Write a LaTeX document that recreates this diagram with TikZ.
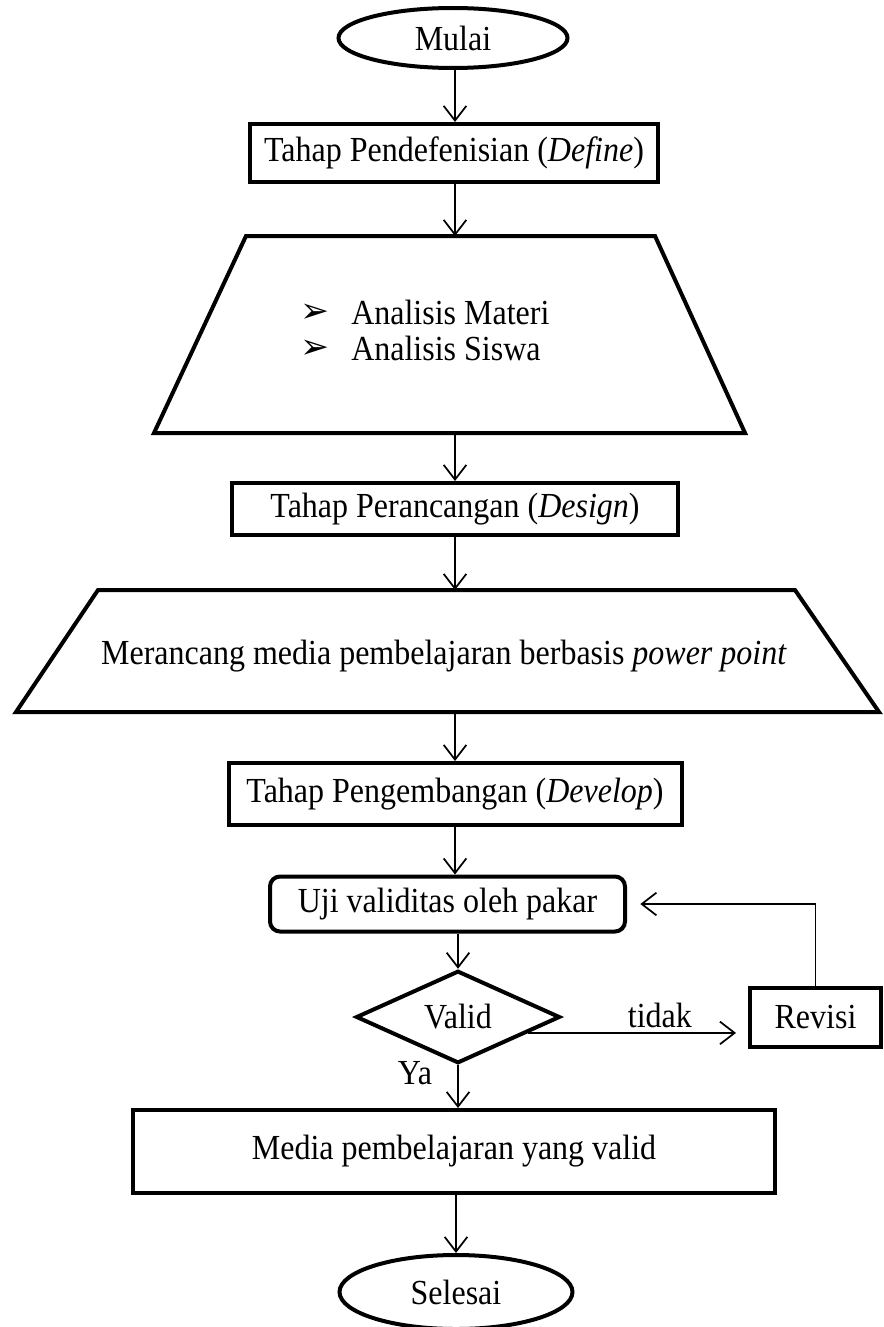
\documentclass[tikz,border=0pt]{standalone}
\usepackage{fontspec}
\usepackage{graphicx}
\setmainfont{Liberation Serif}
\newfontfamily\djv{DejaVu Sans}
\usetikzlibrary{arrows.meta,shapes.geometric,calc}
\newcommand\PX{0.75pt}
\newcommand\fs{\fontsize{24}{29}\selectfont}
\newcommand\V[1]{\scalebox{1}[1.1]{#1}}
\begin{document}
\begin{tikzpicture}[x=0.75pt,y=-0.75pt,
  shp/.style={draw, line width=3pt, font=\fs, inner sep=0pt},
  boxnode/.style={shp, rectangle},
  term/.style={shp, ellipse},
  txt/.style={font=\fs, inner sep=0pt},
  blt/.style={font=\djv\fontsize{26}{30}\selectfont, inner sep=0pt},
  arr/.style={line width=1.3pt, -{Straight Barb[length=11pt,width=17pt]}}]
\useasboundingbox (0,0) rectangle (883,1327);
% start
\node[term, minimum width=229*\PX, minimum height=60*\PX] (mulai) at (453,38) {\V{Mulai}};
\node[boxnode, minimum width=408*\PX, minimum height=58*\PX] (define) at (454,153) {\V{Tahap Pendefenisian (\textit{Define})}};
% trapezoid 1
\coordinate (t1nw) at (246,236);
\coordinate (t1ne) at (655,236);
\coordinate (t1se) at (745,433);
\coordinate (t1sw) at (154,433);
\coordinate (t1n) at (455,236);
\coordinate (t1s) at (455,433);
\draw[line width=3pt] (t1nw) -- (t1ne) -- (t1se) -- (t1sw) -- cycle;
\node[blt] (b1) at (315,313) {➢};
\node[txt, anchor=west] (m1) at (351,312) {\V{Analisis Materi}};
\node[blt] (b2) at (315,349) {➢};
\node[txt, anchor=west] (m2) at (351,348) {\V{Analisis Siswa}};
% design
\node[boxnode, minimum width=446*\PX, minimum height=52*\PX] (design) at (455,509) {\V{Tahap Perancangan (\textit{Design})}};
% trapezoid 2
\coordinate (t2nw) at (98,590);
\coordinate (t2ne) at (795,590);
\coordinate (t2se) at (879,712);
\coordinate (t2sw) at (16,712);
\coordinate (t2n) at (455,590);
\coordinate (t2s) at (455,712);
\draw[line width=3pt] (t2nw) -- (t2ne) -- (t2se) -- (t2sw) -- cycle;
\node[txt] (rancang) at (444,656) {\V{Merancang media pembelajaran berbasis \textit{power point}}};
% develop
\node[boxnode, minimum width=453*\PX, minimum height=62*\PX] (develop) at (455,794) {\V{Tahap Pengembangan (\textit{Develop})}};
\node[boxnode, rounded corners=10*\PX, minimum width=355*\PX, minimum height=55*\PX] (uji) at (447.5,904) {\V{Uji validitas oleh pakar}};
\node[shp, diamond, minimum width=204*\PX, minimum height=89*\PX] (valid) at (458,1017) {\V{Valid}\hspace{16pt}};
\node[boxnode, minimum width=131*\PX, minimum height=59*\PX] (revisi) at (815.5,1017.5) {\V{Revisi}};
\node[boxnode, minimum width=642*\PX, minimum height=83*\PX] (media) at (454,1151.5) {\V{Media pembelajaran yang valid}\hspace{10pt}};
\node[term, minimum width=233*\PX, minimum height=74*\PX] (selesai) at (456,1292) {\V{Selesai}};
% connectors
\draw[arr] (mulai.south -| t1n) -- (t1n |- define.north);
\draw[arr] (t1n |- define.south) -- (t1n);
\draw[arr] (t1s) -- (t1s |- design.north);
\draw[arr] (design.south) -- (t2n);
\draw[arr] (t2s) -- (t2s |- develop.north);
\draw[arr] (develop.south) -- (develop.south |- uji.north);
\draw[arr] (valid.north |- uji.south) -- (valid.north);
\coordinate (vt) at ($(valid.east)!0.33!(valid.south)$);
\draw[arr, shorten >=9pt] (vt) -- node[txt, above=3pt, pos=0.6] (tidak) {\V{tidak}} (vt -| revisi.west);
\draw[arr, shorten >=10pt] (revisi.north) |- (uji.east);
\node[txt] (ya) at (415,1073) {\V{Ya}};
\draw[arr] (valid.south) -- (valid.south |- media.north);
\draw[arr] (media.south -| selesai.north) -- (selesai.north);
\end{tikzpicture}
\end{document}
